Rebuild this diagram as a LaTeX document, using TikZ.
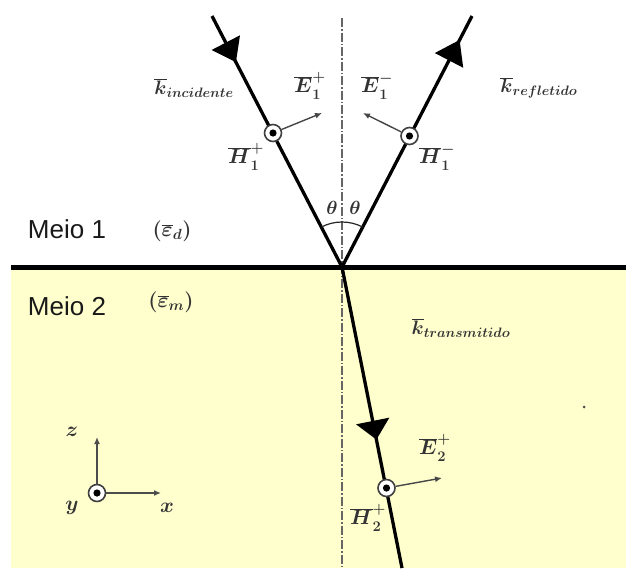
\RequirePackage{fix-cm}
\documentclass[tikz,border=0pt]{standalone}
\usepackage{fontspec}
\newfontfamily\arialf{Liberation Sans}
\usetikzlibrary{calc,arrows.meta,angles}
\definecolor{bgyellow}{RGB}{255,255,206}
\newcommand{\rayhead}[5]{%
  \path ($(#1)!#4!(#2)$) coordinate (hb);
  \fill[black] ($(#1)!#3!(#2)$) -- ($(hb)!#5!90:(#2)$) -- ($(hb)!#5!-90:(#2)$) -- cycle;}
\begin{document}
\begin{tikzpicture}[x=1pt,y=-1pt,
  ray/.style={line width=3.3pt, black},
  efield/.style={line width=1.4pt, gray!55!black, -{Latex[length=7pt,width=6pt]}},
  axisarrow/.style={line width=1.5pt, gray!60!black, -{Latex[length=7pt,width=6pt]}},
  hdot/.style={circle, draw=gray!50!black, line width=1.6pt, fill=white, minimum size=17pt, inner sep=0pt,
    path picture={\fill[black] (path picture bounding box.center) circle (3.6pt);}},
  lab/.style={text=black!80, font=\fontsize{21}{25}\selectfont\boldmath, inner sep=0pt},
  klab/.style={text=black!80, font=\fontsize{19.5}{24}\selectfont\boldmath, inner sep=0pt},
  thlab/.style={text=black!80, font=\fontsize{19}{23}\selectfont\boldmath, inner sep=0pt},
  meio/.style={font=\arialf\fontsize{26}{30}\selectfont, text=black!90, inner sep=0pt},
  normal/.style={gray!80!black, line width=1.3pt, dash pattern=on 9pt off 2pt on 1.5pt off 2pt}
]
\useasboundingbox (0,0) rectangle (626,568);
% medium 2 background
\fill[bgyellow] (11,267) rectangle (626,568);
% normal line
\coordinate (ntop) at (342,18);
\coordinate (nbot) at (342,566);
\draw[normal] (ntop) -- (nbot);
% interface
\coordinate (il) at (11,267);
\coordinate (ir) at (626,267);
\draw[line width=5pt, black] (il) -- (ir);
% rays
\coordinate (O) at (342,267);
\coordinate (top1) at (212,16);
\coordinate (top2) at (472,16);
\coordinate (bot) at (402,568);
\draw[ray] (top1) -- (O);
\draw[ray] (O) -- (top2);
\draw[ray] (O) -- (bot);
\rayhead{top1}{O}{52pt}{30pt}{16pt}
\rayhead{top2}{O}{27pt}{50pt}{16pt}
\rayhead{O}{bot}{176pt}{157pt}{17pt}
% angle arc
\pic[draw=black!85, line width=1.2pt, angle radius=45pt] {angle = top2--O--top1};
\node[thlab] (th1) at (332,208) {$\theta$};
\node[thlab] (th2) at (355,208) {$\theta$};
% field markers
\node[hdot] (h1p) at (273,133) {};
\node[hdot] (h1m) at (409.5,136) {};
\node[hdot] (h2p) at (386.5,488) {};
\coordinate (e1pt) at (322,113);
\coordinate (e1mt) at (363,113);
\coordinate (e2pt) at (442,478);
\draw[efield] (h1p) -- (e1pt);
\draw[efield] (h1m) -- (e1mt);
\draw[efield] (h2p) -- (e2pt);
% labels
\node[klab] (kinc) at (194,88) {$\overline{k}_{incidente}$};
\node[klab] (kref) at (539,88) {$\overline{k}_{refletido}$};
\node[klab] (ktr) at (461,328) {$\overline{k}_{transmitido}$};
\node[lab] (E1p) at (310,86) {$\overline{E}_1^+$};
\node[lab] (E1m) at (377,86) {$\overline{E}_1^-$};
\node[lab] (E2p) at (435,448) {$\overline{E}_2^+$};
\node[lab] (H1p) at (246,157) {$\overline{H}_1^+$};
\node[lab] (H1m) at (437,157) {$\overline{H}_1^-$};
\node[lab] (H2p) at (368,518) {$\overline{H}_2^+$};
\node[meio] (m1) at (67,229) {Meio 1};
\node[meio] (m2) at (67,306) {Meio 2};
\node[lab] (epsd) at (172,231) {$(\overline{\varepsilon}_d)$};
\node[lab] (epsm) at (171,302) {$(\overline{\varepsilon}_m)$};
% axes
\node[hdot] (ax) at (97,493) {};
\coordinate (zt) at (97,437);
\coordinate (xt) at (161,493);
\draw[axisarrow] (ax) -- (zt);
\draw[axisarrow] (ax) -- (xt);
\node[lab] (zl) at (72,432) {$z$};
\node[lab] (yl) at (72,508) {$y$};
\node[lab] (xl) at (167,508) {$x$};
% stray dot
\fill[gray!60!black] (584,407) circle (1.5pt);
\end{tikzpicture}
\end{document}
